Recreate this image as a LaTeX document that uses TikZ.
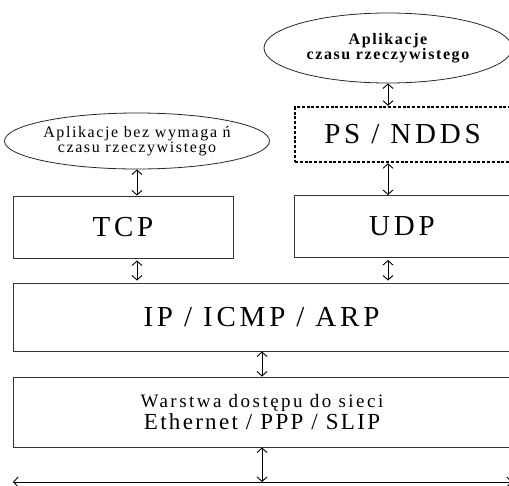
\documentclass[tikz,border=0pt]{standalone}
\usepackage{fontspec}
\setmainfont{Liberation Serif}
\newfontfamily\rozstaw[LetterSpace=10]{Liberation Serif}
\newfontfamily\rozstawduzy[LetterSpace=13]{Liberation Serif}
\usetikzlibrary{shapes.geometric}
\usetikzlibrary{arrows.meta}

\begin{document}
\begin{tikzpicture}[x=1pt,y=-1pt,
    warstwa/.style={draw=black!80,line width=0.9pt,rectangle,inner sep=0pt,align=center},
    aplikacja/.style={draw=black!85,line width=0.8pt,ellipse,inner sep=0pt,align=center},
    strz/.style={black,line width=0.9pt,{Straight Barb[length=4.5pt,width=10pt]}-{Straight Barb[length=4.5pt,width=10pt]}}]
    \useasboundingbox (0,0) rectangle (509,485);
    \clip (0,0) rectangle (509,485);
    % aplikacje
    \node[aplikacja,minimum width=248,minimum height=70] (ellR) at (388,48) {\fontsize{16}{18}\selectfont\rozstaw\bfseries Aplikacje\\ \fontsize{16}{18}\selectfont\rozstaw\bfseries czasu rzeczywistego};
    \node[aplikacja,minimum width=247,minimum height=56] (ellL) at (137,141) {\fontsize{16}{18}\selectfont\rozstaw Aplikacje bez wymaga ń\\ \fontsize{16}{18}\selectfont\rozstaw czasu rzeczywistego};
    % warstwy
    \node[warstwa,draw=black,line width=2.4pt,dash pattern=on 3pt off 1.8pt,minimum width=215,minimum height=55] (ps) at (402.5,134.5) {\fontsize{29}{29}\selectfont\rozstawduzy PS / NDDS};
    \node[warstwa,minimum width=220,minimum height=62] (tcp) at (123,227) {\fontsize{29}{29}\selectfont\rozstawduzy TCP};
    \node[warstwa,minimum width=216,minimum height=62] (udp) at (402,226.5) {\fontsize{29}{29}\selectfont\rozstawduzy UDP};
    \node[warstwa,minimum width=497,minimum height=68] (ip) at (261.5,317) {\fontsize{29}{29}\selectfont\rozstawduzy IP / ICMP / ARP};
    \node[warstwa,minimum width=498,minimum height=70] (dostep) at (262,412) {\fontsize{19}{22}\selectfont\rozstawduzy Warstwa dostępu do sieci\\[1pt] \fontsize{23}{24}\selectfont\rozstaw Ethernet / PPP / SLIP};
    % szyna
    \coordinate (szynaL) at (13,482);
    \coordinate (szynaR) at (512,482);
    \draw[strz] (szynaL) -- (szynaR);
    % polaczenia
    \draw[strz] (ellR.south) -- (ellR |- ps.north);
    \draw[strz] (ellR |- ps.south) -- (ellR |- udp.north);
    \draw[strz] (ellL.south) -- (ellL |- tcp.north);
    \draw[strz,shorten <=2pt,shorten >=2pt] (ellL |- tcp.south) -- (ellL |- ip.north);
    \draw[strz,shorten <=2pt,shorten >=2pt] (ellR |- udp.south) -- (ellR |- ip.north);
    \draw[strz] (dostep |- ip.south) -- (dostep.north);
    \draw[strz] (dostep.south) -- (dostep.south |- szynaL);
\end{tikzpicture}
\end{document}
